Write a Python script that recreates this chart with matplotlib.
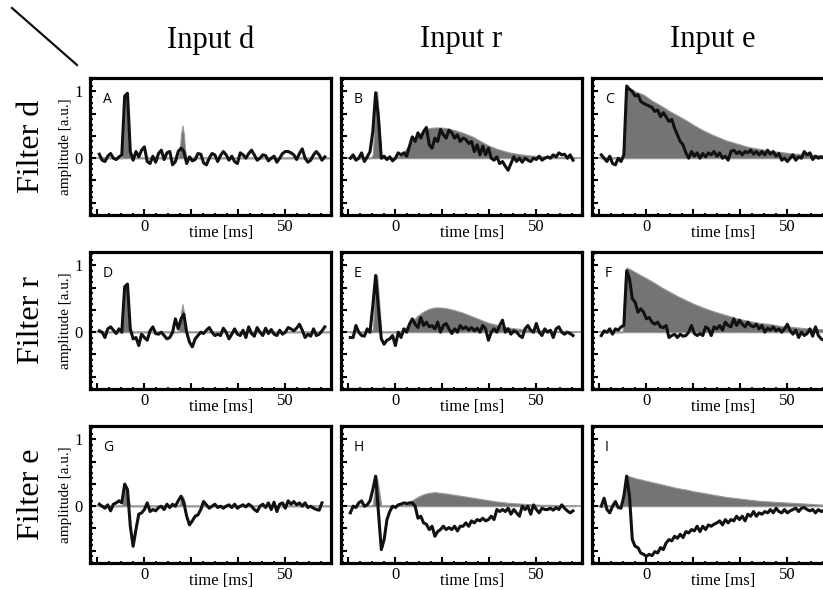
import numpy as np
import matplotlib.pyplot as plt
from matplotlib.lines import Line2D
from matplotlib.ticker import MultipleLocator

# time grid of the recorded traces (ms)
t = np.arange(-16, 65)

# measured responses, rows: filter d/r/e, cols: input d/r/e
trace_A = [0.06, -0.03, -0.05, 0.03, 0.07, 0.0, -0.02, 0.02, 0.05, 0.93,
           0.97, 0.1, -0.03, 0.1, 0.02, 0.12, 0.17, -0.05, -0.08, 0.03,
           -0.06, 0.07, 0.12, -0.02, 0.08, 0.1, -0.1, -0.05, 0.1, 0.15,
           0.1, -0.08, 0.02, -0.04, -0.02, 0.07, 0.06, -0.07, -0.1, 0.0,
           0.07, 0.05, -0.05, 0.04, 0.1, 0.05, -0.03, 0.03, -0.05, -0.08,
           0.08, 0.05, 0.0, 0.07, 0.12, 0.05, -0.03, 0.0, 0.05, 0.04,
           -0.04, 0.0, 0.03, -0.06, 0.0, 0.07, 0.1, 0.1, 0.08, 0.05,
           -0.02, 0.07, 0.14, 0.0, -0.06, -0.03, 0.05, 0.1, 0.05, -0.03,
           0.02]
trace_B = [0.0, 0.05, -0.03, 0.0, 0.08, -0.05, 0.02, 0.1, 0.4, 0.98,
           0.6, 0.0, 0.03, -0.02, 0.02, -0.04, 0.0, 0.08, 0.05, 0.08,
           0.03, 0.18, 0.32, 0.25, 0.38, 0.3, 0.4, 0.46, 0.2, 0.15,
           0.3, 0.25, 0.43, 0.35, 0.3, 0.42, 0.38, 0.3, 0.35, 0.25,
           0.3, 0.28, 0.22, 0.25, 0.1, 0.2, 0.05, 0.18, 0.05, 0.15,
           0.0, -0.03, 0.02, -0.08, -0.05, -0.12, -0.18, -0.08, 0.02, -0.05,
           0.0, -0.06, 0.0, -0.03, -0.05, 0.0, -0.02, 0.03, -0.03, 0.0,
           0.02, 0.0, 0.05, 0.02, 0.08, 0.05, 0.06, 0.0, 0.05, -0.03,
           np.nan]
trace_C = [0.05, 0.0, -0.05, 0.03, -0.08, -0.1, 0.0, -0.05, 0.05, 1.08,
           1.03, 1.0, 0.93, 0.95, 0.85, 0.82, 0.8, 0.78, 0.76, 0.7,
           0.72, 0.62, 0.68, 0.62, 0.55, 0.58, 0.45, 0.35, 0.25, 0.2,
           0.08, 0.0, 0.1, 0.03, 0.08, 0.0, 0.07, 0.02, 0.08, 0.05,
           0.1, 0.03, 0.08, 0.0, 0.03, -0.03, 0.1, 0.12, 0.07, 0.1,
           0.05, 0.1, 0.08, 0.12, 0.06, 0.1, 0.05, 0.1, 0.05, 0.12,
           0.06, 0.1, 0.03, 0.07, -0.03, 0.0, -0.05, 0.0, 0.05, -0.03,
           0.02, 0.0, 0.1, 0.05, 0.08, -0.02, 0.03, 0.0, 0.02, 0.0,
           0.0]
trace_D = [0.02, 0.0, -0.08, 0.05, 0.08, 0.03, -0.02, 0.05, 0.0, 0.68,
           0.72, 0.05, -0.1, -0.08, -0.2, -0.03, -0.08, -0.12, 0.02, 0.08,
           -0.02, -0.03, 0.0, -0.05, -0.1, -0.08, 0.0, 0.2, 0.05, 0.2,
           0.27, 0.0, -0.15, -0.22, -0.1, -0.05, 0.0, -0.02, 0.03, 0.07,
           0.0, -0.05, -0.03, -0.05, 0.06, 0.0, -0.1, -0.03, 0.05, -0.03,
           -0.05, 0.03, -0.08, 0.08, -0.02, -0.06, 0.07, 0.0, -0.05, 0.06,
           -0.02, 0.04, -0.03, -0.05, 0.03, -0.03, 0.0, 0.07, 0.05, 0.02,
           0.06, 0.12, 0.03, -0.08, -0.03, -0.06, 0.05, -0.05, -0.03, 0.02,
           0.08]
trace_E = [-0.08, -0.08, 0.1, 0.0, -0.05, -0.06, 0.05, 0.0, 0.4, 0.85,
           0.35, -0.1, -0.18, -0.12, -0.1, -0.05, -0.2, 0.0, -0.08, 0.05,
           0.0, 0.12, 0.2, 0.12, 0.07, 0.22, 0.1, 0.15, 0.08, 0.1,
           0.05, 0.15, 0.0, 0.1, 0.13, 0.05, -0.02, 0.05, 0.0, 0.1,
           0.05, 0.08, 0.03, 0.07, 0.02, 0.06, 0.0, 0.1, 0.05, -0.12,
           0.0, 0.05, 0.0, 0.1, 0.18, 0.0, 0.05, -0.03, 0.02, 0.0,
           -0.05, -0.08, 0.05, 0.1, 0.03, 0.0, 0.13, 0.0, -0.05, 0.05,
           0.0, 0.03, -0.08, 0.05, 0.08, 0.0, -0.03, 0.0, -0.02, -0.05,
           np.nan]
trace_F = [-0.05, 0.02, 0.0, 0.05, -0.03, 0.05, 0.03, 0.08, 0.1, 0.92,
           0.8, 0.5, 0.45, 0.3, 0.35, 0.3, 0.2, 0.22, 0.15, 0.12,
           0.15, 0.08, 0.07, 0.1, -0.08, -0.05, -0.03, -0.08, -0.03, -0.06,
           -0.05, 0.0, 0.1, -0.02, -0.05, -0.02, -0.05, 0.08, 0.05, -0.05,
           0.08, 0.05, 0.1, 0.03, 0.15, 0.1, 0.08, 0.2, 0.1, 0.18,
           0.12, 0.08, 0.15, 0.1, 0.08, 0.12, 0.05, 0.1, 0.0, 0.06,
           0.03, 0.08, 0.02, 0.05, 0.0, 0.05, 0.12, 0.02, -0.03, 0.03,
           -0.08, 0.0, -0.05, -0.02, 0.05, -0.06, 0.08, -0.05, -0.1, -0.12,
           -0.1]
trace_G = [0.03, 0.0, -0.03, 0.02, -0.07, 0.03, 0.05, 0.08, 0.05, 0.33,
           0.25, -0.3, -0.6, -0.35, -0.12, -0.1, -0.05, 0.05, -0.08, -0.05,
           -0.07, -0.02, 0.0, -0.05, 0.03, -0.02, 0.03, 0.0, 0.08, 0.15,
           0.05, -0.15, -0.28, -0.22, -0.15, -0.13, -0.05, 0.07, 0.02, -0.03,
           0.0, 0.03, -0.02, 0.0, -0.03, 0.0, 0.02, -0.02, 0.03, -0.03,
           0.0, 0.02, -0.01, 0.03, 0.0, -0.05, -0.08, 0.0, 0.03, -0.02,
           0.05, -0.05, 0.06, -0.08, 0.03, 0.05, -0.03, 0.08, 0.03, 0.07,
           0.02, 0.05, 0.0, 0.05, -0.02, 0.0, -0.03, -0.05, -0.06, 0.05,
           np.nan]
trace_H = [-0.1, 0.0, -0.02, 0.05, 0.08, 0.0, 0.02, 0.08, 0.25, 0.45,
           -0.1, -0.65, -0.5, -0.2, -0.08, 0.0, -0.02, 0.02, 0.03, 0.05,
           0.04, 0.05, 0.05, 0.0, -0.18, -0.15, -0.25, -0.27, -0.35, -0.3,
           -0.45, -0.38, -0.35, -0.3, -0.35, -0.32, -0.35, -0.3, -0.37, -0.3,
           -0.3, -0.25, -0.3, -0.22, -0.25, -0.2, -0.22, -0.18, -0.22, -0.2,
           -0.15, -0.2, -0.05, -0.08, -0.05, -0.08, -0.03, -0.12, -0.05, -0.1,
           -0.15, 0.0, -0.05, 0.0, -0.12, 0.02, -0.05, -0.1, -0.03, -0.05,
           -0.05, -0.03, -0.06, -0.02, -0.05, 0.02, -0.03, -0.07, -0.1, -0.07,
           np.nan]
trace_I = [0.0, 0.12, -0.05, -0.1, 0.0, 0.07, -0.02, -0.03, 0.15, 0.45,
           0.15, -0.5, -0.6, -0.62, -0.7, -0.72, -0.75, -0.72, -0.74, -0.68,
           -0.7, -0.62, -0.65, -0.55, -0.5, -0.52, -0.45, -0.48, -0.42, -0.47,
           -0.38, -0.4, -0.35, -0.37, -0.3, -0.38, -0.3, -0.35, -0.28, -0.3,
           -0.27, -0.25, -0.22, -0.28, -0.2, -0.25, -0.2, -0.22, -0.15, -0.2,
           -0.15, -0.22, -0.12, -0.15, -0.08, -0.15, -0.1, -0.12, -0.08, -0.1,
           -0.05, -0.1, -0.03, -0.08, -0.1, -0.05, -0.1, -0.07, -0.05, -0.03,
           -0.08, -0.03, -0.02, -0.05, -0.07, -0.05, -0.1, -0.05, -0.08, -0.06,
           -0.07]

# predicted responses (gray areas)
pred_t_d = [-16, -9, -8, -7.5, -7, -6.5, -6, -5.5, -5, -4,
            11, 12, 12.5, 13, 13.5, 14, 14.5, 15, 16, 66]
pred_A = [0, 0, 0, 0.2, 0.75, 1.0, 0.75, 0.2, 0, 0,
          0, 0, 0.1, 0.36, 0.49, 0.36, 0.1, 0, 0, 0]
pred_D = [0, 0, 0, 0.15, 0.55, 0.72, 0.55, 0.15, 0, 0,
          0, 0, 0.08, 0.3, 0.42, 0.3, 0.08, 0, 0, 0]
pred_G = [0, 0, 0, 0.08, 0.24, 0.3, 0.24, 0.08, 0, 0,
          0, 0, 0.03, 0.11, 0.15, 0.11, 0.03, 0, 0, 0]

pred_t_r = [-16, -9, -8, -7.5, -7, -6.5, -6, -5, 0, 2, 4, 6, 8, 10, 12, 14,
            16, 18, 21, 24, 27, 30, 33, 36, 40, 44, 48, 52, 56, 60, 64]
pred_B = [0, 0, 0.05, 0.5, 0.9, 1.0, 0.7, 0, 0, 0.05, 0.15, 0.26, 0.35, 0.41,
          0.45, 0.46, 0.46, 0.45, 0.42, 0.38, 0.33, 0.26, 0.19, 0.14, 0.09,
          0.06, 0.04, 0.03, 0.02, 0.02, 0.01]
pred_E = [0, 0, 0.05, 0.45, 0.8, 0.85, 0.6, 0, 0, 0.02, 0.08, 0.17, 0.25,
          0.31, 0.35, 0.37, 0.37, 0.36, 0.33, 0.29, 0.24, 0.19, 0.14, 0.11,
          0.07, 0.05, 0.04, 0.03, 0.02, 0.02, 0.01]
pred_H = [0, 0, 0.03, 0.2, 0.38, 0.42, 0.3, 0, 0, 0.01, 0.04, 0.09, 0.14,
          0.18, 0.2, 0.21, 0.2, 0.19, 0.17, 0.15, 0.13, 0.11, 0.09, 0.07,
          0.05, 0.04, 0.03, 0.02, 0.02, 0.01, 0.01]

pred_t_e = [-16, -8.5, -8, -7.5, -7, -4, -1, 2, 5, 8, 11, 14, 17, 20, 24,
            28, 32, 36, 40, 44, 48, 52, 56, 60, 64, 68]
pred_C = [0, 0, 0.4, 0.95, 1.08, 1.0, 0.95, 0.86, 0.79, 0.71, 0.64, 0.57,
          0.49, 0.42, 0.34, 0.27, 0.22, 0.17, 0.14, 0.11, 0.09, 0.07, 0.06,
          0.05, 0.04, 0.03]
pred_F = [0, 0, 0.4, 0.9, 0.97, 0.9, 0.83, 0.76, 0.68, 0.61, 0.54, 0.48,
          0.42, 0.37, 0.31, 0.26, 0.21, 0.17, 0.14, 0.12, 0.09, 0.08, 0.06,
          0.05, 0.04, 0.03]
pred_I = [0, 0, 0.2, 0.42, 0.46, 0.42, 0.39, 0.36, 0.33, 0.3, 0.27, 0.25,
          0.22, 0.2, 0.17, 0.14, 0.12, 0.1, 0.08, 0.07, 0.06, 0.05, 0.04,
          0.03, 0.02, 0.02]

col_titles = ['Input d', 'Input r', 'Input e']
row_titles = ['Filter d', 'Filter r', 'Filter e']
letters = ['A', 'B', 'C', 'D', 'E', 'F', 'G', 'H', 'I']
traces = [trace_A, trace_B, trace_C, trace_D, trace_E, trace_F,
          trace_G, trace_H, trace_I]
pred_t = [pred_t_d, pred_t_r, pred_t_e]
preds = [pred_A, pred_B, pred_C, pred_D, pred_E, pred_F,
         pred_G, pred_H, pred_I]

SERIF = 'Liberation Serif'
W, H = 823, 590
fig = plt.figure(figsize=(W / 100, H / 100), dpi=100)

col_left = [90, 341, 592]
row_top = [78, 252, 426]
aw, ah = 241, 137

for r in range(3):
    for c in range(3):
        k = r * 3 + c
        ax = fig.add_axes([col_left[c] / W, (H - row_top[r] - ah) / H, aw / W, ah / H])
        ax.axhline(0, color='#9a9a9a', lw=1.2, zorder=1)
        ax.fill_between(pred_t[c], 0, preds[k], color='#747474', lw=0.8,
                        edgecolor='#9a9a9a', zorder=2)
        ax.plot(t, traces[k], color='#111111', lw=2.2, zorder=3,
                solid_joinstyle='round')
        ax.set_xlim(-19.3, 66.2)
        ax.set_ylim(-0.85, 1.2)
        for s in ax.spines.values():
            s.set_linewidth(2.3)
        ax.set_xticks([-50 / 3, 0, 50 / 3, 100 / 3, 50])
        ax.set_xticklabels(['', '0', '', '', '50'], fontsize=12, family=SERIF)
        ax.xaxis.set_minor_locator(MultipleLocator(50 / 12))
        ax.set_yticks([-2 / 3, -1 / 3, 0, 1 / 3, 2 / 3, 1])
        if c == 0:
            ax.set_yticklabels(['', '', '0', '', '', '1'], fontsize=12, family=SERIF)
            ax.set_ylabel('amplitude [a.u.]', fontsize=11, family=SERIF, labelpad=2)
        else:
            ax.set_yticklabels([])
        ax.yaxis.set_minor_locator(MultipleLocator(1 / 12))
        ax.tick_params(which='major', direction='in', length=4, width=1.5,
                       top=False, right=False)
        ax.tick_params(which='minor', direction='in', length=1.8, width=1.3,
                       top=False, right=False)
        ax.tick_params(axis='x', pad=3)
        ax.tick_params(axis='y', pad=5)
        ax.text(0.054, 0.9, letters[k], transform=ax.transAxes, fontsize=10,
                family='Open Sans', ha='left', va='top')
        ax.text(0.545, -0.13, 'time [ms]', transform=ax.transAxes, fontsize=12,
                family=SERIF, ha='center', va='center')
        if r == 0:
            ax.text(0.5, 1.0 + 38 / ah, col_titles[c], transform=ax.transAxes,
                    fontsize=22, family=SERIF, ha='center', va='center')
        if c == 0:
            fig.text(32 / W, 1 - (row_top[r] + ah / 2) / H, row_titles[r],
                     fontsize=23, family=SERIF, rotation=90,
                     ha='center', va='center')

fig.add_artist(Line2D([12 / W, 77 / W], [1 - 8 / H, 1 - 65 / H],
                      transform=fig.transFigure, color='#111111', lw=1.6))

fig.savefig('out.png', dpi=100)
